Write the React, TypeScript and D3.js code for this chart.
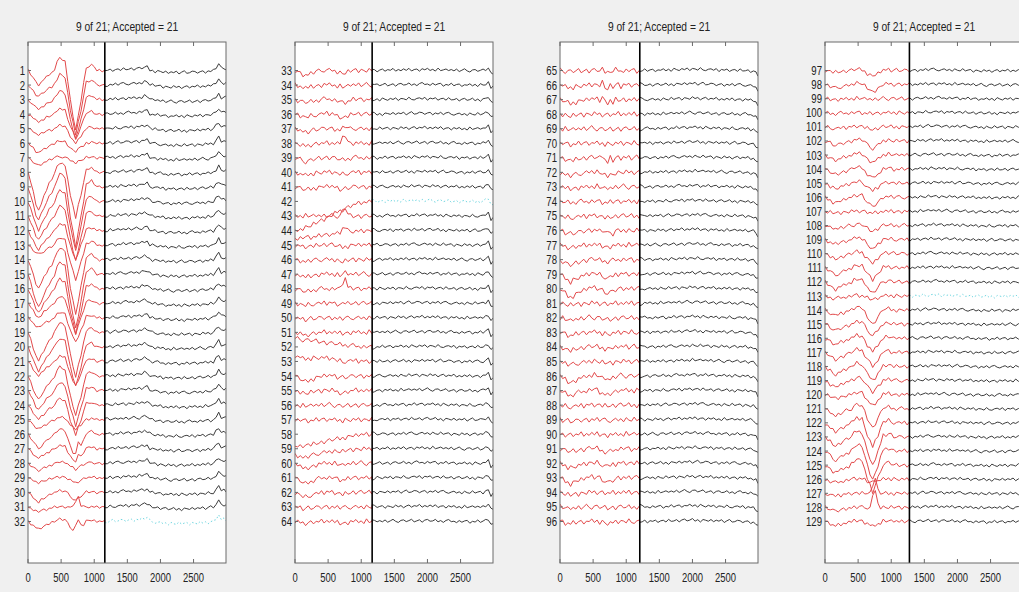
import React from "react";
import * as d3 from "d3";

// ---------- data ----------
const panelTitles = [
  "9 of 21; Accepted = 21",
  "9 of 21; Accepted = 21",
  "9 of 21; Accepted = 21",
  "9 of 21; Accepted = 21",
];
const panelFirstChannel = [1, 33, 65, 97];
const panelChannelCount = [32, 32, 32, 33];
const boundarySample = [1160, 1165, 1205, 1275];
const xTicks = [0, 500, 1000, 1500, 2000, 2500];
const cyanChannels = [32, 42, 113];

// early dip (~150 samples) depth per channel 1..129
const dip1Amp = [
  15, 12, 10, 8, 6, 10, 8, 40, 35, 30, 25, 20, 10, 30, 35, 25, 15, 10, 30, 25, 15, 25, 20, 15, 10, 15, 10, 8, 5, 10, 5, 8,
  5, 3, 3, 3, 4, 3, 4, 3, 3, 0, 0, 0, 2, 2, 3, 3, 2, 2, 3, 0, 3, 6, 3, 1, 1, 0, 4, 6, 6, 5, 2, 2,
  1, 3, 4, 2, 1, 1, 3, 4, 2, 1, 2, 4, 3, 6, 8, 9, 2, 3, 3, 4, 4, 7, 5, 2, 2, 1, 3, 5, 6, 3, 2, 2,
  2, 4, 1, 1, 2, 5, 6, 6, 6, 6, 2, 4, 5, 6, 8, 8, 3, 6, 7, 7, 8, 9, 7, 4, 8, 10, 10, 10, 8, 4, 3, 4, 5,
];
// main dip (~720 samples) depth per channel
const dip2Amp = [
  60, 50, 40, 25, 15, 10, 5, 45, 60, 50, 45, 30, 35, 55, 55, 45, 30, 25, 45, 40, 25, 40, 35, 30, 10, 25, 15, 6, 5, 8, 0, 12,
  3, 2, 3, 4, 2, 0, 2, 2, 3, 0, 0, 0, 2, 2, 2, 0, 2, 1, 1, 0, 2, 2, 3, 1, 1, 0, 1, 2, 2, 2, 1, 2,
  1, 2, 3, 1, 1, 1, 2, 4, 2, 1, 2, 3, 2, 2, 4, 5, 1, 2, 2, 2, 2, 4, 5, 1, 1, 1, 4, 3, 5, 1, 1, 2,
  6, 8, 1, 1, 3, 8, 8, 10, 8, 10, 2, 6, 10, 10, 12, 12, 4, 15, 12, 14, 15, 15, 12, 12, 20, 25, 30, 30, 28, 5, 0, 0, 5,
];
// upward spike (~750 samples) per channel
const spikeAmp = [
  0, 0, 0, 0, 0, 3, 0, 0, 0, 0, 0, 0, 0, 0, 0, 0, 0, 0, 0, 0, 0, 0, 0, 0, 0, 12, 5, 0, 0, 0, 12, 14,
  0, 0, 0, 0, 5, 10, 0, 0, 0, 0, 10, 8, 0, 0, 4, 13, 3, 0, 0, 0, 0, 0, 0, 0, 0, 0, 0, 0, 0, 0, 0, 0,
  0, 0, 0, 0, 0, 0, 0, 0, 0, 0, 0, 0, 0, 0, 0, 0, 0, 0, 0, 0, 0, 0, 0, 0, 0, 0, 0, 0, 0, 0, 0, 0,
  0, 0, 0, 0, 0, 0, 0, 0, 0, 0, 0, 0, 0, 0, 0, 0, 0, 0, 0, 0, 0, 0, 0, 0, 0, 0, 0, 0, 0, 4, 18, 22, 0,
];
// fast burst (600-950 samples), channels with visible oscillation
const burstChannels = [65, 66, 67, 71, 72, 76];
const burstValues = [2, 4, 5, 4, 2, 2];
// slow drifts at the start of the epoch
const driftChannels = [42, 44, 52, 53, 58, 59];
const driftValues = [-30, -8, 8, 6, -13, -6];

// template knots (unit shapes)
const dip1KnotX = [0, 50, 150, 240, 340, 440];
const dip1KnotY = [0, -0.3, -1, -0.6, -0.2, 0];
const dip2KnotX = [380, 480, 560, 640, 720, 800, 880, 960, 1040];
const dip2KnotY = [0, 0.22, 0.15, -0.5, -1, -0.5, 0.05, 0.1, 0];
const spikeKnotX = [690, 750, 810];
const spikeKnotY = [0, 1, 0];
const burstKnotX = [600, 650, 700, 750, 800, 850, 900, 950];
const burstKnotY = [0, 1, -1, 1, -1, 0.8, -0.5, 0];
const driftKnotX = [0, 300, 600, 900, 1100];
const driftKnotY = [1, 0.75, 0.4, 0.1, 0];

// slow course of the later (black) part, per panel
const slowKnotX = [
  [1160, 1400, 1700, 1790, 1850, 2100, 2400, 2700, 2820, 2870, 2920, 2990],
  [1165, 1500, 2000, 2500, 2850, 2930, 2960, 2990],
  [1205, 1600, 2000, 2400, 2800, 2940, 2990],
  [1275, 1600, 2000, 2400, 2990],
];
const slowKnotY = [
  [0, 1, 2, 4, 0, -2, -2, -1, 0, 7, 2, 2],
  [0, 0.5, 1, 0, 0, 3, -3, -2],
  [0, 0.5, 1.5, 0.5, 0, -1, -5],
  [0, 1, 0.5, -0.5, 0],
];

// small fluctuations (hand read, px-like units)
const noise = [
  0.8, -0.6, 1.4, -1.2, 0.3, 1.9, -0.4, -1.7, 0.6, 1.1, -0.9, 0.2, 1.6, -1.3, -0.2, 0.9, -1.8, 0.5, 1.2, -0.7,
  -0.3, 1.5, -1.1, 0.4, -1.6, 0.7, 1.8, -0.5, 0.1, -1.4, 1.0, -0.8, 0.6, 1.3, -1.9, 0.2, -0.6, 1.7, -1.0, 0.5,
  1.1, -1.5, 0.3, -0.2, 1.4, -0.9, 0.8, -1.7, 1.6, 0.0, -1.2, 0.9, -0.4, 1.3, -1.6, 0.6, 0.2, -1.0, 1.8, -0.7,
  -1.3, 0.4, 1.0, -0.5, 1.5, -1.8, 0.7, -0.1, 1.2, -1.4, 0.3, 0.9, -1.1, 1.7, -0.6, -0.3, 1.1, -1.5, 0.5, 1.4,
  -0.8, 0.0, 1.6, -1.2, 0.6, -1.9, 1.0, 0.3, -0.7, 1.3, -1.0, 0.8, -0.2, 1.5, -1.6, 0.4, 1.9, -0.9, -0.4, 1.2,
  0.7, -1.3, 0.2, 1.0, -1.7, 0.5, -0.6, 1.4, -1.1, 0.9, 1.6, -0.5, -1.4, 0.1, 1.1, -0.8, 0.6, -1.5, 1.3, -0.3,
  -1.0, 1.7, -0.7, 0.4, 1.2, -1.8, 0.8, 0.0, -1.2, 1.5, -0.4, 0.9, -1.6, 0.3, 1.4, -1.1, 0.6, -0.2, 1.8, -1.3,
  0.5, -0.9, 1.1, -0.6, 1.6, -1.4, 0.2, 0.7, -1.7, 1.0, -0.3, 1.3, -1.0, 0.4, -1.5, 1.9, -0.8, 0.1, 1.2, -0.5,
];
const redNoiseGain = [0.8, 1.4, 1.5, 1.2];
const blackNoiseGain = [0.9, 0.9, 0.9, 0.9];

// ---------- layout ----------
const W = 1019;
const H = 592;
const panelLeft = [28, 295, 560, 825];
const axW = 198;
const axTop = 42;
const axBottom = 563;
const firstY = 70.5;
const lastY = 521.5;
const SAMPLE_MAX = 2990;
const STEP = 40;
const FONT = "'Liberation Sans', Arial, sans-serif";
const TEXT_COLOR = "#222222";
const AXIS_COLOR = "#6a6a6a";

const tpl = (kx: number[], ky: number[]) => d3.scaleLinear().domain(kx).range(ky).clamp(true);
const dip1T = tpl(dip1KnotX, dip1KnotY);
const dip2T = tpl(dip2KnotX, dip2KnotY);
const spikeT = tpl(spikeKnotX, spikeKnotY);
const burstT = tpl(burstKnotX, burstKnotY);
const driftT = tpl(driftKnotX, driftKnotY);
const slowT = slowKnotX.map((kx, i) => tpl(kx, slowKnotY[i]));

function traceValue(ch: number, p: number, s: number, k: number): number {
  const i = ch - 1;
  let v = dip1Amp[i] * dip1T(s) + dip2Amp[i] * dip2T(s) + spikeAmp[i] * spikeT(s);
  const b = burstChannels.indexOf(ch);
  if (b >= 0) v += burstValues[b] * burstT(s);
  const d = driftChannels.indexOf(ch);
  if (d >= 0) v += driftValues[d] * driftT(s);
  const red = s <= boundarySample[p];
  if (!red) v += slowT[p](s);
  const off = (ch * 37) % noise.length;
  v += noise[(k + off) % noise.length] * (red ? redNoiseGain[p] : blackNoiseGain[p]);
  return v;
}

function NarrowText({
  x,
  y,
  anchor,
  size,
  sx,
  children,
}: {
  x: number;
  y: number;
  anchor: "start" | "middle" | "end";
  size: number;
  sx: number;
  children: React.ReactNode;
}) {
  return (
    <text
      transform={`translate(${x},${y}) scale(${sx},1)`}
      textAnchor={anchor}
      fontFamily={FONT}
      fontSize={size}
      fill={TEXT_COLOR}
    >
      {children}
    </text>
  );
}

function Panel({ p }: { p: number }) {
  const left = panelLeft[p];
  const n = panelChannelCount[p];
  const first = panelFirstChannel[p];
  const x = d3.scaleLinear().domain([0, SAMPLE_MAX]).range([left, left + axW]);
  const yc = d3.scaleLinear().domain([0, n - 1]).range([firstY, lastY]);
  const spacing = (lastY - firstY) / (n - 1);
  const amp = d3.scaleLinear().domain([0, 1]).range([0, -spacing / 14.55]);
  const bnd = boundarySample[p];
  const samples: number[] = [];
  for (let s = 0; s < SAMPLE_MAX; s += STEP) samples.push(s);
  samples.push(SAMPLE_MAX);
  const clipId = `clip${p}`;
  const channels = d3.range(n).map((j) => first + j);
  const labelSize = 12;
  return (
    <g>
      <defs>
        <clipPath id={clipId}>
          <rect x={left} y={axTop} width={axW} height={axBottom - axTop} />
        </clipPath>
      </defs>
      <rect x={left} y={axTop} width={axW} height={axBottom - axTop} fill="#ffffff" />
      <g clipPath={`url(#${clipId})`}>
        {channels.map((ch, j) => {
          const base = yc(j);
          const pts = samples.map((s, k) => [s, traceValue(ch, p, s, k)] as [number, number]);
          const redPts = pts.filter((d) => d[0] <= bnd);
          const kb = samples.findIndex((s) => s > bnd);
          const bv = traceValue(ch, p, bnd, kb);
          redPts.push([bnd, bv]);
          const blackPts: [number, number][] = [[bnd, bv], ...pts.filter((d) => d[0] > bnd)];
          const line = d3
            .line<[number, number]>()
            .x((d) => x(d[0]))
            .y((d) => base + amp(d[1]));
          const cyan = cyanChannels.includes(ch);
          return (
            <g key={ch}>
              <path d={line(redPts) || ""} fill="none" stroke="#e2494a" strokeWidth={1} />
              <path
                d={line(blackPts) || ""}
                fill="none"
                stroke={cyan ? "#6fd6e0" : "#3c3c3c"}
                strokeWidth={1}
                strokeDasharray={cyan ? "1.5,2.2" : undefined}
              />
            </g>
          );
        })}
      </g>
      <line x1={x(bnd)} x2={x(bnd)} y1={axTop} y2={axBottom} stroke="#000" strokeWidth={1.6} />
      <rect x={left} y={axTop} width={axW} height={axBottom - axTop} fill="none" stroke={AXIS_COLOR} strokeWidth={1} />
      {xTicks.map((t) => (
        <g key={t}>
          <line x1={x(t)} x2={x(t)} y1={axBottom} y2={axBottom - 4} stroke={AXIS_COLOR} />
          <line x1={x(t)} x2={x(t)} y1={axTop} y2={axTop + 4} stroke={AXIS_COLOR} />
          <NarrowText x={x(t)} y={axBottom + 19} anchor="middle" size={13.5} sx={0.7}>
            {t}
          </NarrowText>
        </g>
      ))}
      {channels.map((ch, j) => (
        <g key={`l${ch}`}>
          <line x1={left} x2={left + 3} y1={yc(j)} y2={yc(j)} stroke={AXIS_COLOR} />
          <NarrowText x={left - 3} y={yc(j) + 4.5} anchor="end" size={labelSize} sx={0.8}>
            {ch}
          </NarrowText>
        </g>
      ))}
      <NarrowText x={left + axW / 2} y={31} anchor="middle" size={12.5} sx={0.82}>
        {panelTitles[p]}
      </NarrowText>
    </g>
  );
}

export default function App() {
  return (
    <svg width={W} height={H} style={{ position: "absolute", left: 0, top: 0, display: "block" }}>
      <rect x={0} y={0} width={W} height={H} fill="#f0f0f0" />
      {[0, 1, 2, 3].map((p) => (
        <Panel key={p} p={p} />
      ))}
    </svg>
  );
}
